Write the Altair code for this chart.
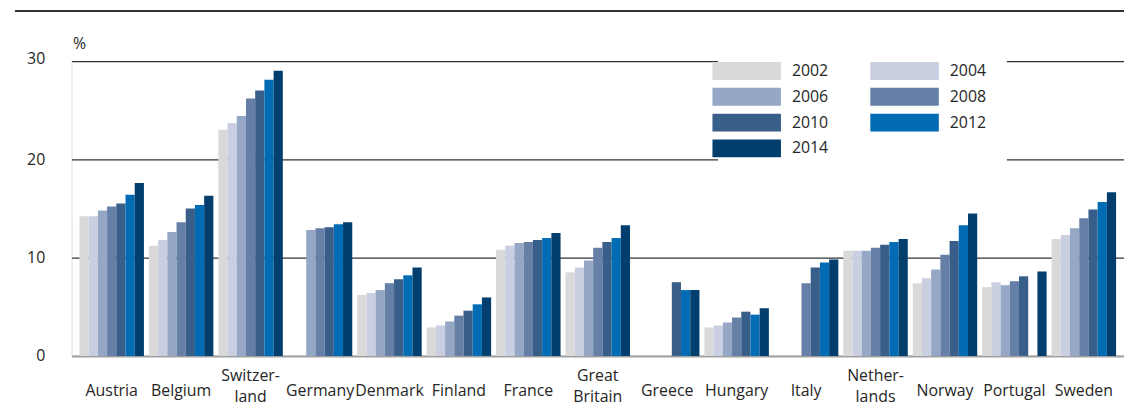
import altair as alt
import pandas as pd

countries = ["Austria", "Belgium", "Switzer-\nland", "Germany", "Denmark", "Finland",
             "France", "Great\nBritain", "Greece", "Hungary", "Italy", "Nether-\nlands",
             "Norway", "Portugal", "Sweden"]
years = ["2002", "2004", "2006", "2008", "2010", "2012", "2014"]
colors = ["#D9D9D9", "#C9CFE1", "#95A7C5", "#667FA6", "#385E8A", "#016BB4", "#023F6E"]

# values per country, in order of `years` (None = no data)
austria = [14.2, 14.2, 14.8, 15.2, 15.5, 16.4, 17.6]
belgium = [11.2, 11.8, 12.6, 13.6, 15.0, 15.35, 16.3]
switzerland = [23.0, 23.7, 24.4, 26.2, 27.0, 28.1, 29.0]
germany = [None, None, 12.8, 13.0, 13.1, 13.4, 13.6]
denmark = [6.2, 6.4, 6.7, 7.4, 7.8, 8.2, 9.0]
finland = [2.9, 3.1, 3.5, 4.1, 4.6, 5.25, 5.95]
france = [10.8, 11.2, 11.5, 11.6, 11.8, 12.0, 12.5]
great_britain = [8.5, 9.0, 9.7, 11.0, 11.6, 12.0, 13.3]
greece = [None, None, None, None, 7.5, 6.7, 6.7]
hungary = [2.9, 3.1, 3.4, 3.9, 4.5, 4.2, 4.85]
italy = [None, None, None, 7.4, 9.0, 9.5, 9.8]
netherlands = [10.7, 10.7, 10.7, 11.0, 11.3, 11.6, 11.9]
norway = [7.4, 7.9, 8.8, 10.3, 11.7, 13.3, 14.5]
portugal = [7.0, 7.5, 7.2, 7.6, 8.1, None, 8.6]
sweden = [11.9, 12.3, 13.0, 14.0, 14.9, 15.65, 16.65]

series = [austria, belgium, switzerland, germany, denmark, finland, france,
          great_britain, greece, hungary, italy, netherlands, norway, portugal, sweden]

rows = []
for c, vals in zip(countries, series):
    for y, v in zip(years, vals):
        if v is not None:
            rows.append({"country": c, "year": y, "value": v})
df = pd.DataFrame(rows)

FONT = "Open Sans"
TEXT = "#262626"
multi = "indexof(datum.value, '\\n') >= 0"

bars = alt.Chart(df).mark_bar().encode(
    x=alt.X("country:N", sort=countries, title=None,
            scale=alt.Scale(domain=countries, paddingInner=0.0715, paddingOuter=0.114),
            axis=alt.Axis(labelExpr="split(datum.value, '\\n')", labelAngle=0,
                          labelBaseline="middle",
                          labelPadding=alt.condition(multi, alt.value(20), alt.value(35)),
                          labelLineHeight=21,
                          ticks=False, grid=False, domain=True, domainColor="#A0A0A0",
                          domainWidth=2, labelFontSize=16, labelColor=TEXT,
                          labelFont=FONT)),
    xOffset=alt.XOffset("year:N", sort=years,
                        scale=alt.Scale(domain=years, paddingInner=0, paddingOuter=0)),
    y=alt.Y("value:Q", scale=alt.Scale(domain=[0, 30], nice=False),
            axis=alt.Axis(values=[0, 10, 20, 30], title="%", titleAngle=0, titleX=1,
                          titleY=-18, titleAlign="left", titleBaseline="middle",
                          titleFontSize=16, titleFontWeight="normal", titleFont=FONT,
                          titleColor=TEXT,
                          domain=False, ticks=False, labelPadding=27, labelFontSize=16,
                          labelColor=TEXT, labelFont=FONT,
                          labelOffset=alt.condition("datum.value == 30", alt.value(-3), alt.value(0)),
                          grid=True,
                          gridColor=alt.condition("datum.value == 0", alt.value("#A0A0A0"),
                                                  alt.value("#333333")),
                          gridWidth=1.2)),
    color=alt.Color("year:N", sort=years,
                    scale=alt.Scale(domain=years, range=colors),
                    legend=alt.Legend(title=None, orient="none", legendX=651, legendY=-19,
                                      direction="horizontal",
                                      columns=2, columnPadding=41, rowPadding=8,
                                      fillColor="white", padding=20,
                                      symbolType="M-3.833,-1H3.833V1H-3.833Z", symbolSize=324,
                                      symbolStrokeWidth=0, symbolOpacity=1,
                                      labelFontSize=16, labelOffset=36.5, labelFont=FONT,
                                      labelColor=TEXT)),
)

top_rule = alt.Chart(pd.DataFrame({"k": [0]})).mark_rule(
    color="#333333", strokeWidth=2
).encode(x=alt.value(-57), x2=alt.value(1060), y=alt.value(-50.5))

chart = alt.layer(bars, top_rule).properties(
    width=1060, height=297,
    autosize=alt.AutoSizeParams(type="none"),
    padding={"left": 64, "top": 52, "right": 0, "bottom": 46},
).configure_view(stroke=None).configure(font=FONT)

chart.save("out.html", embed_options={"renderer": "svg", "actions": False})
